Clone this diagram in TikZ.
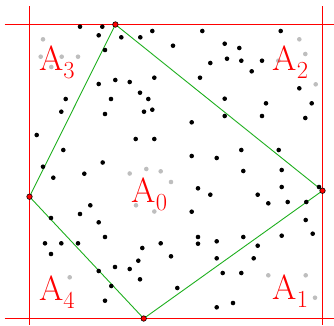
\documentclass[tikz,border=0pt]{standalone}
\usepackage{fontspec}
\newcommand{\lbl}[1]{A\raisebox{-7.8pt}{\fontsize{24.5}{28}\selectfont #1}}
\begin{document}
\begin{tikzpicture}[x=1pt,y=-1pt,
  redline/.style={red,line width=1pt},
  hull/.style={draw={rgb,255:red,30;green,175;blue,30},line width=0.9pt},
  bdot/.style={fill=black},
  gdot/.style={fill={rgb,255:red,190;green,190;blue,190}},
  vtx/.style={circle,fill=red,draw=black,line width=0.6pt,inner sep=0pt,minimum size=5.5pt},
  lab/.style={red,inner sep=0pt,anchor=base west,font=\fontsize{35}{40}\selectfont}]
\useasboundingbox (0,0) rectangle (334,325);
% red frame lines
\coordinate (tl) at (4.7,24.5); \coordinate (tr) at (334,24.5);
\coordinate (bl) at (4.7,318.5); \coordinate (br) at (334,318.5);
\coordinate (lt) at (29.5,6); \coordinate (lb) at (29.5,325);
\coordinate (rt) at (322.5,6); \coordinate (rb) at (322.5,325);
\draw[redline] (tl) -- (tr);
\draw[redline] (bl) -- (br);
\draw[redline] (lt) -- (lb);
\draw[redline] (rt) -- (rb);
% hull vertices
\coordinate (vT) at (115.4,24.5);
\coordinate (vR) at (322.5,190.7);
\coordinate (vB) at (143.7,318.5);
\coordinate (vL) at (29.5,196.7);
\draw[hull] (vT) -- (vR) -- (vB) -- (vL) -- cycle;
% gray points
\foreach \p in {(43,39.3),(40.7,56.7),(61.7,56.7),(78,56.7),(51.3,67),(299.3,39.3),(305.3,54),(278.3,60.7),(315.7,84.3),(129.7,173.5),(146.3,169),(160.7,171.3),(171,182),(136,205.3),(154.3,211.5),(69.7,277.3),(268.3,275.3),(305.7,275.3),(315,297.7)}
  \fill[gdot] \p circle (2.3pt);
% black points
\foreach \p in {(80,26.7),(102.3,26.7),(98.7,35.3),(121.3,37.3),(140.3,37.3),(152.3,31),(105,50),(98.7,84),(115.3,80),(129.7,82),(154.3,77.7),(65.7,99),(111,99),(140,92.7),(148.3,99),(61.3,111.7),(105,114),(144,111.7),(152.3,109.7),(36.7,135),(135.7,139),(154.3,139),(63.3,150),(102.7,162.5),
(202.3,31),(280.7,31),(173,45.7),(224.7,43.7),(239.3,48),(210.3,63),(227,58.7),(241.3,60.7),(262,60.7),(251.7,71.3),(200,77.7),(299.3,88.3),(224.7,98.7),(266,103.3),(311.7,103.3),(224.7,116),(262,116),(305.3,118),(191.7,122.3),(241.3,150),(278.7,150),(191.7,156),(216.7,158),
(43,166.7),(53.3,177.7),(84.3,173.7),(51,218),(90.3,205.3),(80,214),(98.7,222.3),(105,237),(45,243.3),(61.3,243.3),(78,243.3),(51,254),(142.3,248),(138.3,260.7),(115,267),(129.7,269),(98.7,271),(140,279.3),(111.3,286),(105,300.7),(160.7,243.3),
(243.3,171),(281.7,170),(198,188.3),(210.3,194.7),(281.7,187),(257.7,194.7),(268.3,203.3),(287.7,202),(306.3,202),(319,187),(191.7,211.7),(305.7,220),(312.7,233.7),(281.7,235.7),(198,237),(198,243.7),(216.7,241.3),(243.3,237),(257.7,245.7),(171,256.3),(216.7,258.3),(253.7,258.3),(222.7,273),(241.3,273),(177.3,288),(216.7,307.3),(233,303)}
  \fill[bdot] \p circle (2.3pt);
% vertex markers
\node[vtx] (nT) at (vT) {};
\node[vtx] (nR) at (vR) {};
\node[vtx] (nB) at (vB) {};
\node[vtx] (nL) at (vL) {};
% labels
\node[lab] (a0) at (131.5,202.7) {\lbl{0}};
\node[lab] (a1) at (272.5,299.7) {\lbl{1}};
\node[lab] (a2) at (272.5,70.7) {\lbl{2}};
\node[lab] (a3) at (38.8,70.7) {\lbl{3}};
\node[lab] (a4) at (38.8,300.3) {\lbl{4}};
\end{tikzpicture}
\end{document}
